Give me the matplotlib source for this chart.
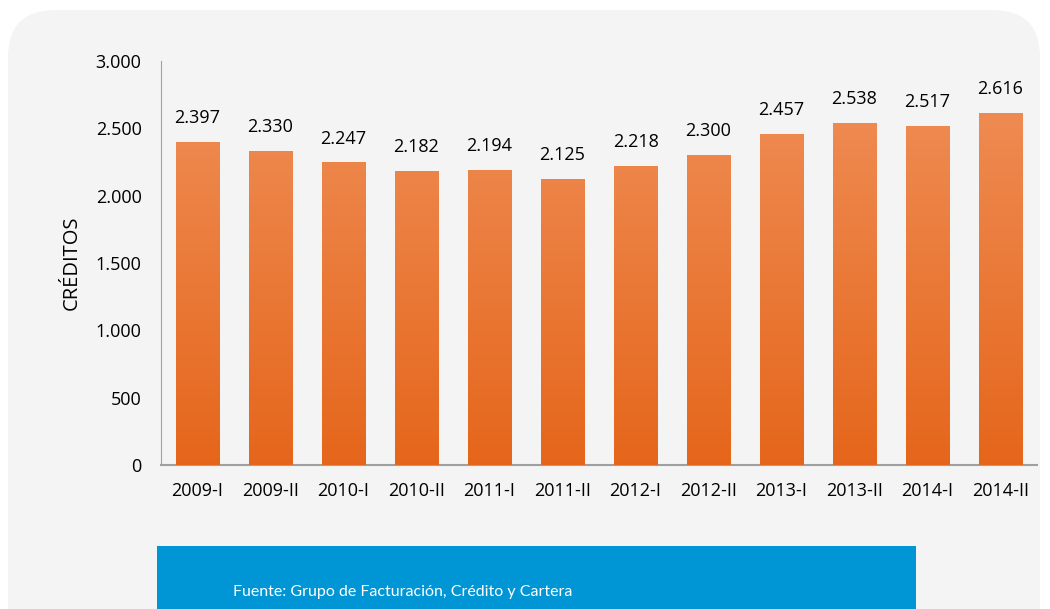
import numpy as np
import matplotlib.pyplot as plt
from matplotlib.patches import FancyBboxPatch, Rectangle
from matplotlib.colors import LinearSegmentedColormap
from matplotlib.ticker import FuncFormatter

periodos = ["2009-I", "2009-II", "2010-I", "2010-II", "2011-I", "2011-II",
            "2012-I", "2012-II", "2013-I", "2013-II", "2014-I", "2014-II"]
creditos = [2397, 2330, 2247, 2182, 2194, 2125, 2218, 2300, 2457, 2538, 2517, 2616]
yticks = [0, 500, 1000, 1500, 2000, 2500, 3000]
fuente = "Fuente: Grupo de Facturación, Crédito y Cartera"

fnt = "Open Sans"

fig = plt.figure(figsize=(10.5, 6.09), dpi=100)
fig.patch.set_facecolor("white")

# panel gris de fondo
panel = FancyBboxPatch((8 / 1050, -0.1), 1032 / 1050, 0.1 + 599 / 609,
                       boxstyle="round,pad=0,rounding_size=0.045",
                       transform=fig.transFigure, facecolor="#f4f4f4",
                       edgecolor="none", mutation_aspect=1050 / 609, zorder=-2)
fig.patches.append(panel)

ax = fig.add_axes([161 / 1050, 1 - 465 / 609, 876 / 1050, 404 / 609])
ax.set_facecolor("none")

x = np.arange(len(periodos))
bars = ax.bar(x, creditos, width=0.59, color="#ee7a35", zorder=2)

# degradado naranja en cada barra
cmap = LinearSegmentedColormap.from_list("nar", ["#e5661b", "#f0905a"])
grad = np.linspace(0, 1, 256).reshape(-1, 1)
for b in bars:
    bx, bw, bh = b.get_x(), b.get_width(), b.get_height()
    im = ax.imshow(grad, cmap=cmap, origin="lower", aspect="auto",
                   extent=(bx, bx + bw, 0, 3000), zorder=3)
    im.set_clip_path(b)

for xi, v in zip(x, creditos):
    ax.text(xi, v + 110, f"{v:,}".replace(",", "."), ha="center", va="bottom",
            fontsize=13, family=fnt, color="black")

ax.set_xlim(-0.5, len(periodos) - 0.5)
ax.set_ylim(0, 3000)
ax.set_yticks(yticks)
ax.yaxis.set_major_formatter(FuncFormatter(lambda v, p: f"{int(v):,}".replace(",", ".")))
ax.set_xticks(x)
ax.set_xticklabels(periodos)
ax.tick_params(length=0, labelsize=13, pad=12)
ax.tick_params(axis="y", pad=14)
for lab in ax.get_xticklabels() + ax.get_yticklabels():
    lab.set_family(fnt)

for s in ["top", "right"]:
    ax.spines[s].set_visible(False)
ax.spines["left"].set_color("#a0a0a0")
ax.spines["bottom"].set_color("#a0a0a0")
ax.spines["bottom"].set_linewidth(1.5)

ax.set_ylabel("CRÉDITOS", fontsize=14.5, family=fnt)
ax.yaxis.set_label_coords(-0.09, 0.5)

# caja azul de la fuente
fig.patches.append(Rectangle((157 / 1050, 0), 759 / 1050, 63 / 609,
                             transform=fig.transFigure, facecolor="#0096d6",
                             edgecolor="none", zorder=-1))
fig.text(403 / 1050, 1 - 592 / 609, fuente, ha="center", va="center",
         color="white", fontsize=11.5, family="Lato")

fig.savefig("out.png", dpi=100)
